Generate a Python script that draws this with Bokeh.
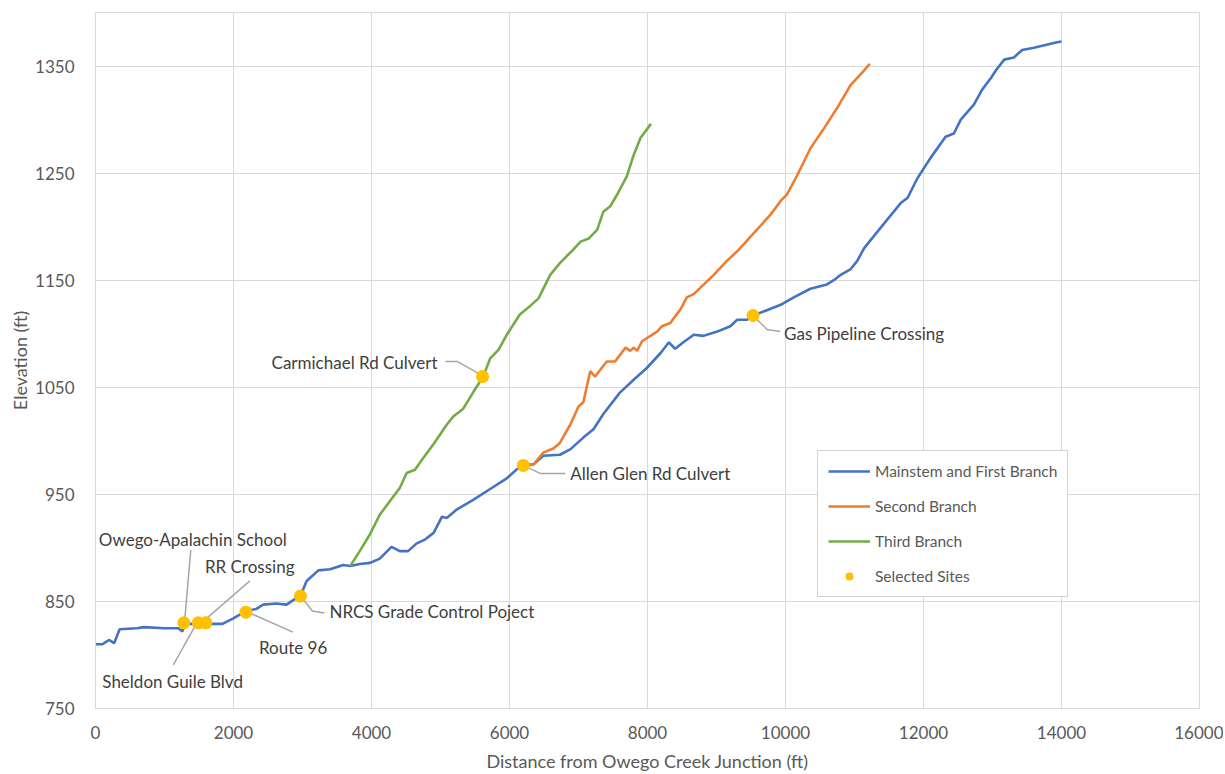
from bokeh.plotting import figure
from bokeh.models import Range1d, FixedTicker, Legend, LegendItem
from bokeh.core.properties import value
from bokeh.embed import file_html
from bokeh.resources import INLINE

# ---------------- data ----------------
main_x = [0, 100, 200, 270, 350, 600, 700, 1000, 1200, 1260,
          1300, 1600, 1840, 1990, 2180, 2330, 2430, 2620, 2770, 2860,
          2970, 3060, 3230, 3400, 3590, 3690, 3830, 3980, 4120, 4290,
          4410, 4530, 4650, 4780, 4900, 4940, 5020, 5090, 5240, 5480,
          5720, 5960, 6100, 6200, 6350, 6490, 6730, 6880, 7070, 7220,
          7360, 7600, 7800, 7990, 8190, 8310, 8400, 8520, 8670, 8810,
          9010, 9200, 9300, 9440, 9530, 9730, 9930, 10120, 10360, 10600,
          10700, 10800, 10940, 11040, 11140, 11430, 11670, 11770, 11910, 12100,
          12320, 12440, 12540, 12730, 12850, 12980, 13050, 13170, 13310, 13430,
          13600, 13920, 14000]
main_y = [810, 810, 814, 811, 824, 825, 826, 825, 825, 822,
          829, 829, 829, 834, 841, 843, 847, 848, 847, 851,
          855, 869, 879, 880, 884, 883, 885, 886, 890, 901,
          897, 897, 904, 908, 914, 919, 929, 928, 936, 945,
          955, 965, 973, 977, 978, 986, 987, 992, 1003, 1011,
          1025, 1045, 1057, 1068, 1082, 1092, 1086, 1092, 1099, 1098,
          1102, 1107, 1113, 1113, 1117, 1122, 1127, 1134, 1142, 1146,
          1150, 1155, 1160, 1168, 1180, 1203, 1222, 1227, 1245, 1264,
          1284, 1287, 1300, 1314, 1328, 1339, 1346, 1356, 1358, 1365,
          1367, 1372, 1373]

second_x = [6200, 6350, 6490, 6640, 6730, 6880, 7000, 7070, 7170, 7240,
            7410, 7530, 7680, 7750, 7800, 7850, 7920, 8140, 8210, 8330,
            8480, 8570, 8670, 8960, 9150, 9300, 9780, 9930, 10020, 10170,
            10360, 10560, 10750, 10940, 11140, 11220]
second_y = [977, 978, 989, 993, 998, 1015, 1032, 1036, 1065, 1060,
            1074, 1074, 1087, 1084, 1087, 1084, 1093, 1102, 1107, 1110,
            1123, 1134, 1137, 1155, 1168, 1177, 1211, 1224, 1230, 1248,
            1273, 1292, 1311, 1332, 1346, 1352]

third_x = [3690, 3830, 3980, 4120, 4270, 4410, 4510, 4630, 4750, 4900,
           5090, 5190, 5330, 5480, 5620, 5720, 5840, 5960, 6150, 6300,
           6420, 6590, 6730, 6900, 7030, 7150, 7270, 7360, 7460, 7560,
           7700, 7800, 7900, 8050]
third_y = [883, 897, 913, 931, 944, 956, 970, 973, 984, 997,
           1015, 1023, 1030, 1046, 1060, 1077, 1085, 1099, 1118, 1126,
           1133, 1155, 1166, 1177, 1186, 1189, 1197, 1214, 1219, 1230,
           1247, 1267, 1283, 1296]

site_names = ["Owego-Apalachin School", "Sheldon Guile Blvd", "RR Crossing",
              "Route 96", "NRCS Grade Control Poject", "Carmichael Rd Culvert",
              "Allen Glen Rd Culvert", "Gas Pipeline Crossing"]
site_x = [1280, 1490, 1600, 2180, 2970, 5610, 6200, 9530]
site_y = [830, 830, 830, 840, 855, 1060, 977, 1117]

series_names = ["Mainstem and First Branch", "Second Branch", "Third Branch", "Selected Sites"]
x_ticks = [0, 2000, 4000, 6000, 8000, 10000, 12000, 14000, 16000]
y_ticks = [750, 850, 950, 1050, 1150, 1250, 1350]
x_title = "Distance from Owego Creek Junction (ft)"
y_title = "Elevation (ft)"

# ---------------- layout / styles ----------------
FRAME_W, FRAME_H = 1104, 696
X0, X1, Y0, Y1 = 0, 16000, 750, 1400
fx = (X1 - X0) / FRAME_W
fy = (Y1 - Y0) / FRAME_H
FONT = "Lato"
TXT = "#595959"
BLUE, ORANGE, GREEN, GOLD = "#4472C4", "#ED7D31", "#70AD47", "#FFC000"

# label offsets in screen px from each site dot (dx right, dy down)
label_off = [(-85, -83, "left"), (-96, 59, "left"), (-1, -56, "left"), (13, 35, "left"),
             (29, 15, "left"), (-45, -14, "right"), (47, 8, "left"), (31, 18, "left")]
leader_off = [[(7, -73), (1, -4)], [(-25, 42), (-2, 1)], [(44, -42), (-1, -3)],
              [(4, 1), (47, 20)], [(4, 5), (12, 15), (24, 17)],
              [(-37, -15), (-25, -15), (-2, -2)], [(4, 2), (17, 8), (42, 8)],
              [(2, 2), (14, 14), (27, 16)]]

p = figure(frame_width=FRAME_W, frame_height=FRAME_H,
           min_border_left=95, min_border_right=24, min_border_top=12, min_border_bottom=62,
           x_range=Range1d(X0, X1), y_range=Range1d(Y0, Y1),
           output_backend="svg", toolbar_location=None,
           background_fill_color="white", border_fill_color="white")
p.outline_line_color = "#d9d9d9"

for ax, ticks in ((p.xaxis, x_ticks), (p.yaxis, y_ticks)):
    ax.ticker = FixedTicker(ticks=ticks)
    ax.major_tick_line_color = None
    ax.minor_tick_line_color = None
    ax.axis_line_color = "#d9d9d9"
    ax.major_label_text_font = FONT
    ax.major_label_text_font_size = "17px"
    ax.major_label_text_color = TXT
    ax.axis_label_text_font = FONT
    ax.axis_label_text_font_size = "18px"
    ax.axis_label_text_font_style = "normal"
    ax.axis_label_text_color = TXT
p.xaxis.axis_label = x_title
p.yaxis.axis_label = y_title
p.xaxis.major_label_standoff = 11
p.yaxis.major_label_standoff = 15
p.xaxis.axis_label_standoff = 8
p.yaxis.axis_label_standoff = 1
p.xgrid.ticker = FixedTicker(ticks=x_ticks)
p.ygrid.ticker = FixedTicker(ticks=y_ticks)
p.grid.grid_line_color = "#d9d9d9"
p.grid.grid_line_width = 1

# leader lines
lx, ly = [], []
for sx, sy, pts in zip(site_x, site_y, leader_off):
    lx.append([sx + dx * fx for dx, dy in pts])
    ly.append([sy - dy * fy for dx, dy in pts])
p.multi_line(lx, ly, line_color="#a6a6a6", line_width=1.5)

r1 = p.line(main_x, main_y, line_color=BLUE, line_width=2.6)
r2 = p.line(second_x, second_y, line_color=ORANGE, line_width=2.6)
r3 = p.line(third_x, third_y, line_color=GREEN, line_width=2.6)
r4 = p.scatter(site_x, site_y, size=13, fill_color=GOLD, line_color=None)

for (dx, dy, al), sx, sy, name in zip(label_off, site_x, site_y, site_names):
    p.text([sx + dx * fx], [sy - dy * fy], text=[name], text_align=al,
           text_baseline="middle", text_font=value(FONT), text_font_size="17px",
           text_color="#404040")

legend = Legend(items=[LegendItem(label=series_names[i], renderers=[r])
                       for i, r in enumerate((r1, r2, r3, r4))],
                location=(722, 111), padding=10, spacing=15,
                glyph_width=42, glyph_height=20, label_height=20, label_standoff=5,
                label_text_font=FONT, label_text_font_size="15.5px", label_text_color=TXT,
                border_line_color="#a6a6a6", border_line_width=1,
                background_fill_color="white", background_fill_alpha=1.0)
p.add_layout(legend, "center")

open("out.html", "w").write(file_html(p, INLINE))
